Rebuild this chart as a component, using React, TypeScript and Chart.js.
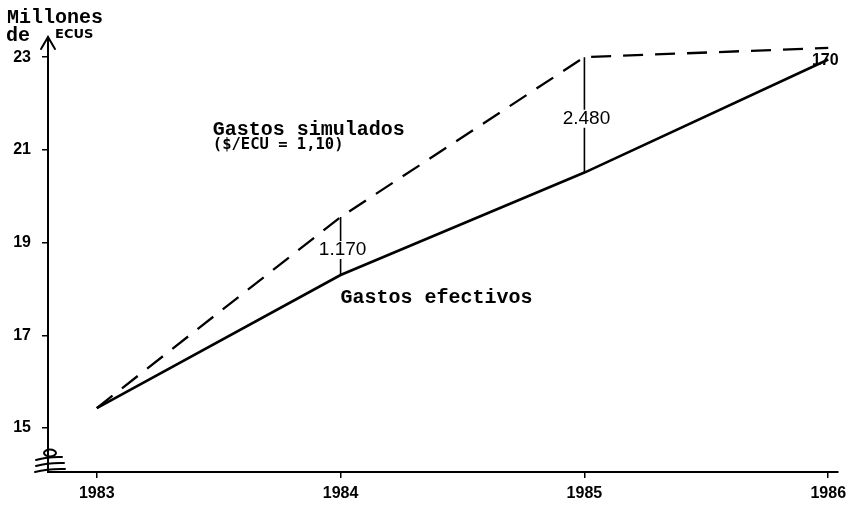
import React, { useEffect, useRef } from 'react';
import { Chart, registerables } from 'chart.js';

Chart.register(...registerables);

// ---- data ----
const years = [1983, 1984, 1985, 1986];
const gastosEfectivos = [15.43, 18.3, 20.51, 22.95];
const gastosSimulados = [15.43, 19.55, 23.0, 23.2];
const diferencias = ['', '1.170', '2.480', '170'];
const yTickValues = [15, 17, 19, 21, 23];
const yAxisTitle = ['Millones', 'de', 'ECUS'];
const labelSimulados = ['Gastos simulados', '($/ECU = 1,10)'];
const labelEfectivos = 'Gastos efectivos';

// annotation anchors in data units
const simuladosAnchor = { x: 1983.476, y: 21.32 };
const efectivosAnchor = { x: 1984.0, y: 17.7 };

const decorPlugin = {
  id: 'decor',
  afterDraw(chart: any) {
    const { ctx, chartArea: ca, scales } = chart;
    const xs = scales.x;
    const ys = scales.y;
    ctx.save();
    ctx.fillStyle = '#000';
    ctx.strokeStyle = '#000';
    ctx.lineCap = 'round';

    // y axis title
    ctx.textAlign = 'left';
    ctx.textBaseline = 'alphabetic';
    ctx.font = 'bold 20px "Liberation Mono"';
    ctx.fillText(yAxisTitle[0], 7, 23);
    ctx.fillText(yAxisTitle[1], 6, 41);
    ctx.font = 'bold 13px "DejaVu Sans"';
    ctx.fillText(yAxisTitle[2], 55, 38);

    // arrow on y axis
    ctx.lineWidth = 2;
    ctx.beginPath();
    ctx.moveTo(ca.left, ca.top + 2);
    ctx.lineTo(ca.left, ca.top - 3);
    ctx.stroke();
    ctx.beginPath();
    ctx.moveTo(ca.left - 7, ca.top + 9);
    ctx.lineTo(ca.left, ca.top - 3);
    ctx.lineTo(ca.left + 7, ca.top + 9);
    ctx.stroke();

    // axis break symbol
    const bx = ca.left;
    const by = ca.bottom;
    ctx.lineWidth = 2;
    ctx.beginPath();
    ctx.ellipse(bx + 2, by - 19, 6, 3.5, 0, 0, Math.PI * 2);
    ctx.stroke();
    const strokes = [
      [-12, -12, 14, -15],
      [-12, -6, 16, -9],
      [-13, 0, 17, -3],
    ];
    strokes.forEach(([x1, y1, x2, y2]) => {
      ctx.beginPath();
      ctx.moveTo(bx + x1, by + y1);
      ctx.quadraticCurveTo(bx, by + (y1 + y2) / 2 - 2, bx + x2, by + y2);
      ctx.stroke();
    });

    // difference markers
    ctx.lineWidth = 1.6;
    ctx.lineCap = 'butt';
    for (let i = 1; i < years.length; i++) {
      const px = xs.getPixelForValue(years[i]);
      const top = ys.getPixelForValue(gastosSimulados[i]);
      const bot = ys.getPixelForValue(gastosEfectivos[i]);
      if (i < years.length - 1) {
        const mid = (top + bot) / 2 + 4;
        ctx.beginPath();
        ctx.moveTo(px, top);
        ctx.lineTo(px, mid - 9);
        ctx.moveTo(px, mid + 9);
        ctx.lineTo(px, bot);
        ctx.stroke();
        ctx.font = '19px "Liberation Sans"';
        ctx.textAlign = 'center';
        ctx.textBaseline = 'middle';
        ctx.fillText(diferencias[i], px + 2, mid);
      } else {
        ctx.font = 'bold 16px "Liberation Sans"';
        ctx.textAlign = 'center';
        ctx.textBaseline = 'middle';
        ctx.fillText(diferencias[i], px - 3, bot + 1);
      }
    }

    // series labels
    ctx.textAlign = 'left';
    ctx.textBaseline = 'alphabetic';
    const sx = xs.getPixelForValue(simuladosAnchor.x);
    const sy = ys.getPixelForValue(simuladosAnchor.y);
    ctx.font = 'bold 20px "Liberation Mono"';
    ctx.fillText(labelSimulados[0], sx, sy);
    ctx.font = 'bold 15.5px "DejaVu Sans Mono"';
    ctx.fillText(labelSimulados[1], sx, sy + 14);
    const ex = xs.getPixelForValue(efectivosAnchor.x);
    const ey = ys.getPixelForValue(efectivosAnchor.y);
    ctx.font = 'bold 20px "Liberation Mono"';
    ctx.fillText(labelEfectivos, ex, ey);

    ctx.restore();
  },
};

export default function App() {
  const ref = useRef<HTMLCanvasElement | null>(null);

  useEffect(() => {
    document.body.style.margin = '0';
    const canvas = ref.current;
    if (!canvas) return;
    const chart = new Chart(canvas, {
      type: 'line',
      data: {
        datasets: [
          {
            label: 'Gastos efectivos',
            data: years.map((x, i) => ({ x, y: gastosEfectivos[i] })),
            borderColor: '#000',
            borderWidth: 2.6,
            pointRadius: 0,
            tension: 0,
            fill: false,
          },
          {
            label: 'Gastos simulados',
            data: years.map((x, i) => ({ x, y: gastosSimulados[i] })),
            borderColor: '#000',
            borderWidth: 2.3,
            borderDash: [20, 12],
            pointRadius: 0,
            tension: 0,
            fill: false,
          },
        ],
      },
      options: {
        animation: false,
        responsive: false,
        maintainAspectRatio: false,
        layout: { padding: { top: 40, right: 15, left: 0, bottom: 0 } },
        plugins: {
          legend: { display: false },
          tooltip: { enabled: false },
        },
        scales: {
          x: {
            type: 'linear',
            min: 1982.8,
            max: 1986.04,
            afterBuildTicks: (s: any) => {
              s.ticks = years.map((v) => ({ value: v }));
            },
            afterFit: (s: any) => {
              s.height = 33;
            },
            grid: {
              display: true,
              drawOnChartArea: false,
              drawTicks: true,
              tickLength: 6,
              color: '#000',
              lineWidth: 1.5,
            },
            border: { display: true, color: '#000', width: 2 },
            ticks: {
              color: '#000',
              font: { family: 'Liberation Sans', size: 16, weight: 'bold' },
              padding: 6,
              maxRotation: 0,
              autoSkip: false,
              callback: (v: any) => String(v),
            },
          },
          y: {
            type: 'linear',
            min: 14.05,
            max: 23.37,
            afterBuildTicks: (s: any) => {
              s.ticks = yTickValues.map((v) => ({ value: v }));
            },
            afterFit: (s: any) => {
              s.width = 48;
            },
            grid: {
              display: true,
              drawOnChartArea: false,
              drawTicks: true,
              tickLength: 6,
              color: '#000',
              lineWidth: 1.5,
            },
            border: { display: true, color: '#000', width: 2 },
            ticks: {
              color: '#000',
              font: { family: 'Liberation Sans', size: 16, weight: 'bold' },
              padding: 11,
              autoSkip: false,
              callback: (v: any) => String(v),
            },
          },
        },
      },
      plugins: [decorPlugin],
    } as any);
    return () => chart.destroy();
  }, []);

  return (
    <div style={{ width: 853, height: 505, position: 'relative', background: '#fff' }}>
      <canvas ref={ref} width={853} height={505} />
    </div>
  );
}
